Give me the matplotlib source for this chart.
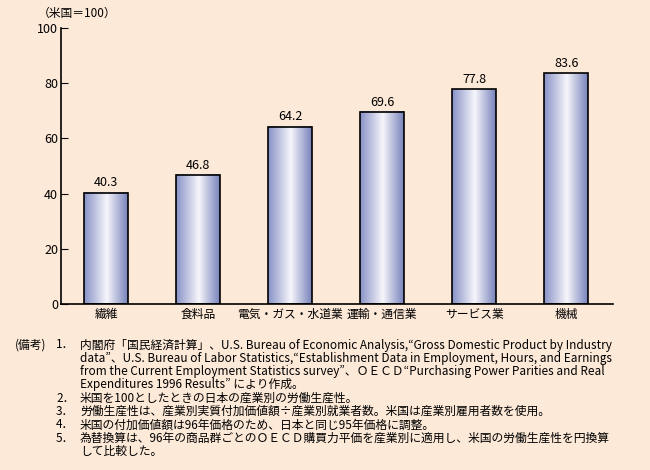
import numpy as np
import matplotlib.pyplot as plt
from matplotlib.colors import LinearSegmentedColormap

plt.rcParams['font.family'] = ['Noto Sans CJK JP', 'DejaVu Sans']

categories = ['繊維', '食料品', '電気・ガス・水道業', '運輸・通信業', 'サービス業', '機械']
values = [40.3, 46.8, 64.2, 69.6, 77.8, 83.6]
yticks = [0, 20, 40, 60, 80, 100]

notes = [
    ('(備考)', '1．', '内閣府「国民経済計算」、U.S. Bureau of Economic Analysis,“Gross Domestic Product by Industry'),
    ('', '', 'data”、U.S. Bureau of Labor Statistics,“Establishment Data in Employment, Hours, and Earnings'),
    ('', '', 'from the Current Employment Statistics survey”、ＯＥＣＤ“Purchasing Power Parities and Real'),
    ('', '', 'Expenditures 1996 Results” により作成。'),
    ('', '2．', '米国を100としたときの日本の産業別の労働生産性。'),
    ('', '3．', '労働生産性は、産業別実質付加価値額÷産業別就業者数。米国は産業別雇用者数を使用。'),
    ('', '4．', '米国の付加価値額は96年価格のため、日本と同じ95年価格に調整。'),
    ('', '5．', '為替換算は、96年の商品群ごとのＯＥＣＤ購買力平価を産業別に適用し、米国の労働生産性を円換算'),
    ('', '', 'して比較した。'),
]

bg = '#fde9d8'
fig = plt.figure(figsize=(6.5, 4.7), dpi=100, facecolor=bg)
ax = fig.add_axes([61 / 650, 1 - 304 / 470, (613 - 61) / 650, (304 - 28) / 470])
ax.set_facecolor(bg)

cmap = LinearSegmentedColormap.from_list(
    'bar', [(0, '#8891c6'), (0.52, '#f6f6fb'), (1, '#7782bb')])
grad = np.linspace(0, 1, 256).reshape(1, -1)
w = 0.478
x = np.arange(len(categories))
bars = ax.bar(x, values, width=w, facecolor='none', edgecolor='black', linewidth=1.2, zorder=3)
for b, v in zip(bars, values):
    x0 = b.get_x()
    ax.imshow(grad, cmap=cmap, extent=[x0, x0 + w, 0, v], aspect='auto', zorder=2)
    ax.text(b.get_x() + w / 2, v + 1.2, f'{v:.1f}', ha='center', va='bottom', fontsize=9)

ax.set_xlim(-0.49, 5.51)
ax.set_ylim(0, 100)
ax.set_yticks(yticks)
ax.set_xticks(x)
ax.set_xticklabels(categories, fontsize=8.5)
ax.tick_params(axis='y', direction='in', length=5, labelsize=9, pad=2)
ax.tick_params(axis='x', length=0, pad=3)
for s in ['top', 'right']:
    ax.spines[s].set_visible(False)
for s in ['left', 'bottom']:
    ax.spines[s].set_linewidth(1.2)

fig.text(38 / 650, 1 - 13 / 470, '（米国＝100）', fontsize=8.5, ha='left', va='center')

y0 = 345
for i, (a, n, t) in enumerate(notes):
    yy = 1 - (y0 + i * 13.3) / 470
    if a:
        fig.text(15 / 650, yy, a, fontsize=8.5, ha='left', va='center')
    if n:
        fig.text(56 / 650, yy, n, fontsize=8.5, ha='left', va='center')
    fig.text(80 / 650, yy, t, fontsize=8.5, ha='left', va='center')

fig.savefig('out.png', dpi=100, facecolor=bg)
